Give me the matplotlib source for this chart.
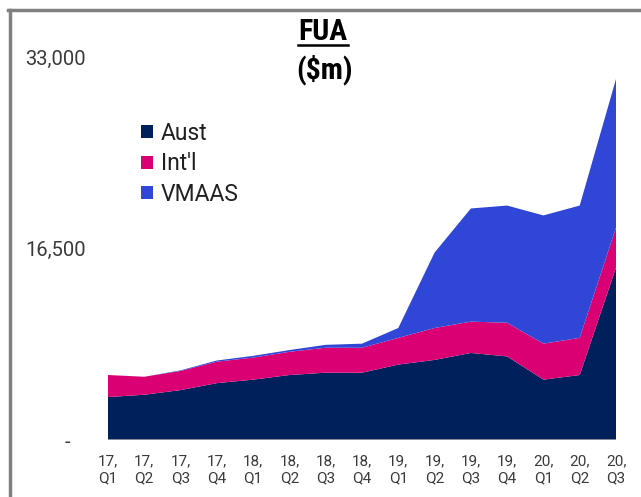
import matplotlib
matplotlib.use("Agg")
import matplotlib.pyplot as plt
from matplotlib.lines import Line2D
import numpy as np

categories = ["17,\nQ1", "17,\nQ2", "17,\nQ3", "17,\nQ4", "18,\nQ1", "18,\nQ2", "18,\nQ3", "18,\nQ4",
              "19,\nQ1", "19,\nQ2", "19,\nQ3", "19,\nQ4", "20,\nQ1", "20,\nQ2", "20,\nQ3"]
aust = [3700, 3900, 4300, 4900, 5200, 5600, 5800, 5800, 6500, 6900, 7500, 7200, 5200, 5600, 14850]
intl = [1900, 1550, 1650, 1850, 1900, 2000, 2150, 2150, 2300, 2750, 2700, 2900, 3100, 3200, 3450]
vmaas = [0, 0, 50, 100, 150, 150, 250, 350, 850, 6500, 9750, 10100, 11050, 11400, 12800]
series_names = ["Aust", "Int'l", "VMAAS"]
colors = ["#00205C", "#DA0074", "#2F46D6"]
y_ticks = [0, 16500, 33000]
y_labels = ["-   ", "16,500", "33,000"]

plt.rcParams['font.family'] = ['Roboto', 'DejaVu Sans']

fig = plt.figure(figsize=(6.41, 4.97), dpi=100)
ax = fig.add_axes([108/641, 57/497, 508/641, 383/497])

x = np.arange(len(categories))
ax.stackplot(x, aust, intl, vmaas, colors=colors, labels=series_names, linewidth=0)

ax.set_xlim(0, len(categories) - 1)
ax.set_ylim(0, 33000)
ax.set_yticks(y_ticks)
ax.set_yticklabels(y_labels, fontsize=14.5, color="#3a3a3a", fontweight="normal")
ax.set_xticks(x)
ax.set_xticklabels(categories, fontsize=11, color="#3a3a3a", fontweight="normal", linespacing=1.35)
ax.tick_params(axis="both", length=0)
ax.tick_params(axis="y", pad=16)
ax.tick_params(axis="x", pad=10)
for s in ax.spines.values():
    s.set_visible(False)
ax.axhline(0, color="#A0A0A0", lw=1.2)

leg = ax.legend(loc="upper left", bbox_to_anchor=(0.025, 0.885), frameon=False,
                handlelength=0.5, handleheight=0.5, handletextpad=0.35, labelspacing=0.33,
                prop={'family': ['Roboto'], 'size': 16.5, 'weight': 'normal'})
for t in leg.get_texts():
    t.set_color("#202020")

# Title
tfam = ['Roboto Condensed', 'Liberation Sans Narrow', 'Roboto']
t1 = fig.text(323/641, 1 - 32/497, "FUA", ha="center", va="center", fontsize=21.5,
              fontweight="bold", family=tfam)
fig.text(324/641, 1 - 70/497, "($m)", ha="center", va="center", fontsize=21.5,
         fontweight="bold", family=tfam)
fig.canvas.draw()
bb = t1.get_window_extent()
W, H = fig.bbox.width, fig.bbox.height
yline = (bb.y0 + 1) / H
fig.add_artist(Line2D([bb.x0 / W, bb.x1 / W], [yline, yline], color="black", lw=1.8))

# Frame
fig.add_artist(Line2D([8/641, 1.0], [1 - 10/497, 1 - 10/497], color="#808080", lw=2.5))
fig.add_artist(Line2D([10/641, 10/641], [1 - 10/497, 0.0], color="#808080", lw=2.5))

fig.savefig("out.png", dpi=100)
